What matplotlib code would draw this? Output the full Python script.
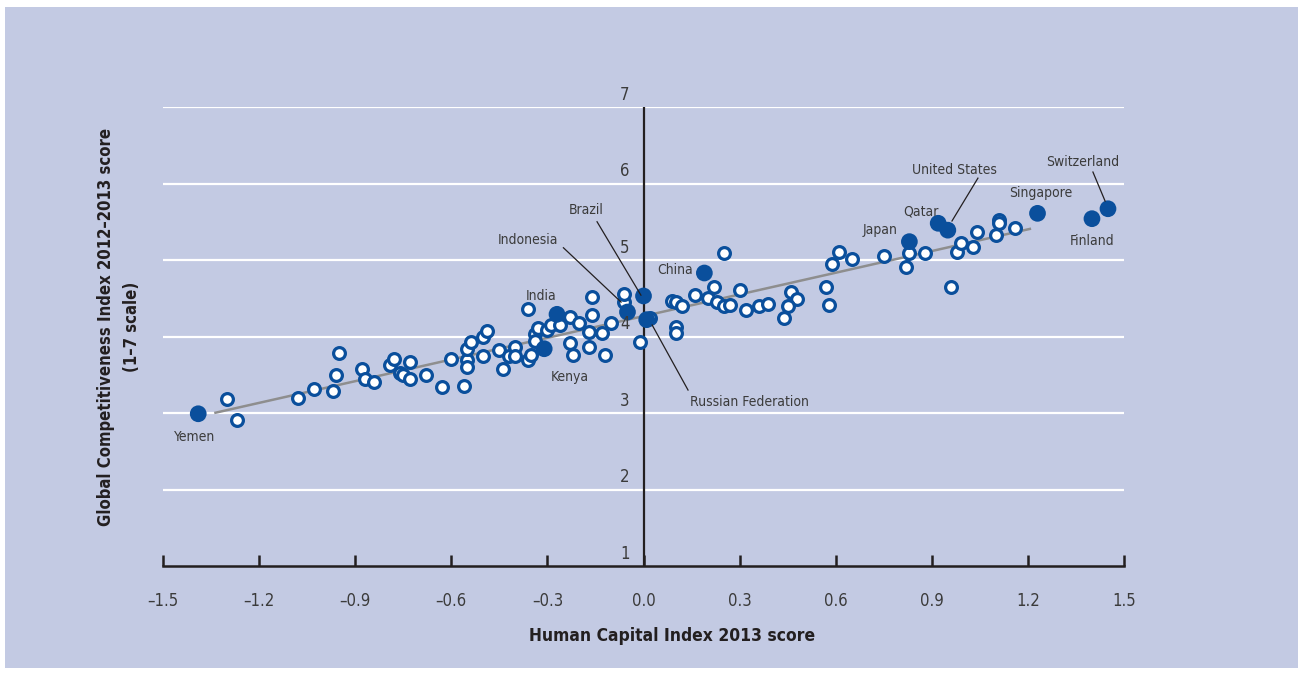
#!/usr/bin/env python3
"""
Human Capital Index 2013 vs Global Competitiveness Index 2012-2013
Scatter with trend line, highlighted countries labelled
"""

import matplotlib
matplotlib.use('Agg')
import matplotlib.pyplot as plt
from matplotlib import font_manager
from matplotlib.patches import Rectangle

# Data: other countries (open circles)
hci_other = [-1.30, -1.27, -1.08, -1.03, -0.97, -0.96, -0.95, -0.88, -0.87, -0.84,
             -0.79, -0.78, -0.76, -0.75, -0.73, -0.73, -0.68, -0.63, -0.60, -0.56,
             -0.55, -0.55, -0.55, -0.54, -0.50, -0.49, -0.50, -0.45, -0.44, -0.42,
             -0.40, -0.40, -0.36, -0.36, -0.35, -0.34, -0.33, -0.34, -0.30, -0.29,
             -0.26, -0.23, -0.23, -0.22, -0.20, -0.17, -0.17, -0.16, -0.16, -0.12,
             -0.13, -0.10, -0.06, -0.06, -0.01, 0.02, 0.25, 0.22, 0.16, 0.09,
             0.10, 0.12, 0.20, 0.23, 0.25, 0.27, 0.30, 0.32, 0.36, 0.39,
             0.46, 0.48, 0.45, 0.44, 0.57, 0.58, 0.59, 0.61, 0.65, 0.10,
             0.10, 0.75, 0.83, 0.82, 0.88, 0.96, 0.98, 0.99, 1.03, 1.04,
             1.11, 1.11, 1.10, 1.16]
gci_other = [3.18, 2.91, 3.20, 3.31, 3.29, 3.50, 3.78, 3.58, 3.44, 3.41,
             3.63, 3.71, 3.52, 3.50, 3.67, 3.44, 3.50, 3.34, 3.71, 3.35,
             3.69, 3.60, 3.84, 3.93, 3.99, 4.07, 3.75, 3.82, 3.58, 3.75,
             3.86, 3.75, 3.69, 4.36, 3.76, 4.03, 4.11, 3.94, 4.08, 4.15,
             4.15, 3.92, 4.25, 3.76, 4.18, 3.86, 4.06, 4.28, 4.52, 3.76,
             4.05, 4.18, 4.45, 4.56, 3.93, 4.24, 5.09, 4.65, 4.54, 4.46,
             4.45, 4.40, 4.50, 4.45, 4.40, 4.41, 4.61, 4.35, 4.40, 4.42,
             4.58, 4.49, 4.40, 4.24, 4.65, 4.41, 4.95, 5.10, 5.01, 4.12,
             4.05, 5.05, 5.09, 4.91, 5.09, 4.65, 5.10, 5.22, 5.17, 5.37,
             5.52, 5.48, 5.33, 5.42]

# Highlighted countries (filled circles)
countries = ['Yemen', 'Kenya', 'India', 'Indonesia', 'Brazil', 'Russian Federation',
             'China', 'Japan', 'Qatar', 'United States', 'Singapore', 'Finland',
             'Switzerland']
hci_hl = [-1.39, -0.31, -0.27, -0.05, 0.00, 0.01, 0.19, 0.83, 0.92, 0.95, 1.23, 1.40, 1.45]
gci_hl = [2.99, 3.84, 4.29, 4.32, 4.53, 4.22, 4.83, 5.24, 5.48, 5.39, 5.61, 5.54, 5.67]

# Trend line as drawn in the source
trend_x = [-1.34, 1.21]
trend_y = [3.00, 5.41]

x_ticks = [-1.5, -1.2, -0.9, -0.6, -0.3, 0.0, 0.3, 0.6, 0.9, 1.2, 1.5]
y_ticks = [1, 2, 3, 4, 5, 6, 7]

# Label placement: text position (data), alignment, optional leader (start, end)
label_layout = {
    'Yemen': ((-1.40, 2.69), 'center', None),
    'Kenya': ((-0.23, 3.47), 'center', None),
    'India': ((-0.32, 4.53), 'center', None),
    'Indonesia': ((-0.36, 5.26), 'center', ((-0.25, 5.16), (-0.07, 4.45))),
    'Brazil': ((-0.18, 5.65), 'center', ((-0.145, 5.50), (-0.008, 4.54))),
    'Russian Federation': ((0.33, 3.14), 'center', ((0.139, 3.30), (0.027, 4.15))),
    'China': ((0.10, 4.87), 'center', None),
    'Japan': ((0.74, 5.39), 'center', None),
    'Qatar': ((0.865, 5.64), 'center', None),
    'United States': ((0.97, 6.18), 'center', ((1.044, 6.07), (0.963, 5.51))),
    'Singapore': ((1.24, 5.88), 'center', None),
    'Finland': ((1.40, 5.25), 'center', None),
    'Switzerland': ((1.37, 6.28), 'center', ((1.403, 6.15), (1.441, 5.77))),
}

# Colours
BG = '#c3cae3'
BLUE = '#0a4f9c'
DARK = '#231f20'
TEXT = '#3b3b3b'

# Condensed font if one is available
fonts = font_manager.fontManager.ttflist
names = {f.name for f in fonts}
if 'Liberation Sans Narrow' in names:
    FONT, STRETCH = 'Liberation Sans Narrow', 'normal'
elif any(f.name == 'DejaVu Sans' and f.stretch == 'condensed' for f in fonts):
    FONT, STRETCH = 'DejaVu Sans', 'condensed'
else:
    FONT, STRETCH = 'Liberation Sans', 'normal'
plt.rcParams['font.family'] = FONT
plt.rcParams['font.stretch'] = STRETCH

W, H = 1303, 673
fig = plt.figure(figsize=(W / 100, H / 100), dpi=100, facecolor='white')
fig.patches.append(Rectangle((5 / W, 5 / H), (W - 10) / W, (H - 12) / H,
                             transform=fig.transFigure, facecolor=BG,
                             edgecolor='none', zorder=-10))

ax = fig.add_axes([163 / W, (H - 566) / H, (1124 - 163) / W, (566 - 107) / H])
ax.set_facecolor('none')
ax.set_xlim(-1.5, 1.5)
ax.set_ylim(1, 7)

# White gridlines
for v in y_ticks[1:]:
    ax.axhline(v, color='white', linewidth=1.6, zorder=1)

# Zero line
ax.axvline(0, color=DARK, linewidth=1.6, zorder=2)

# Trend line
ax.plot(trend_x, trend_y, color='#8e8e8e', linewidth=1.8, zorder=3,
        solid_capstyle='butt')

# Points
ax.scatter(hci_other, gci_other, s=72, facecolor='white', edgecolor=BLUE,
           linewidth=2.3, zorder=4)
ax.scatter(hci_hl, gci_hl, s=145, facecolor=BLUE, edgecolor='none', zorder=5)

# Country labels and leader lines
for name in countries:
    (tx, ty), ha, leader = label_layout[name]
    ax.text(tx, ty, name, ha=ha, va='center', fontsize=10, color=TEXT, zorder=6)
    if leader is not None:
        (x0, y0), (x1, y1) = leader
        ax.plot([x0, x1], [y0, y1], color=DARK, linewidth=0.9, zorder=6)

# Y tick labels next to zero line, sitting above gridlines
for v in y_ticks:
    ax.annotate(str(v), xy=(0, v), xytext=(-10, 2.5), textcoords='offset points',
                ha='right', va='bottom', fontsize=12, color=TEXT, zorder=6,
                annotation_clip=False)

# Spines and ticks
for side in ['top', 'right', 'left']:
    ax.spines[side].set_visible(False)
ax.spines['bottom'].set_color(DARK)
ax.spines['bottom'].set_linewidth(1.8)
ax.set_yticks([])
ax.set_xticks(x_ticks)
ax.set_xticklabels([f'{t:.1f}'.replace('-', '\u2013') for t in x_ticks])
ax.tick_params(axis='x', direction='in', length=8, width=1.8, color=DARK,
               pad=19, labelsize=12, labelcolor=TEXT)

# Axis titles
fig.text(672 / W, 1 - 636 / H, 'Human Capital Index 2013 score', ha='center',
         va='center', fontsize=12.5, fontweight='bold', color=DARK)
fig.text(119 / W, 1 - 327 / H,
         'Global Competitiveness Index 2012\u20132013 score\n(1\u20137 scale)',
         ha='center', va='center', rotation=90, multialignment='center',
         fontsize=12, fontweight='bold', color=DARK, linespacing=1.6)

plt.savefig('out.png', dpi=100, facecolor=fig.get_facecolor())
